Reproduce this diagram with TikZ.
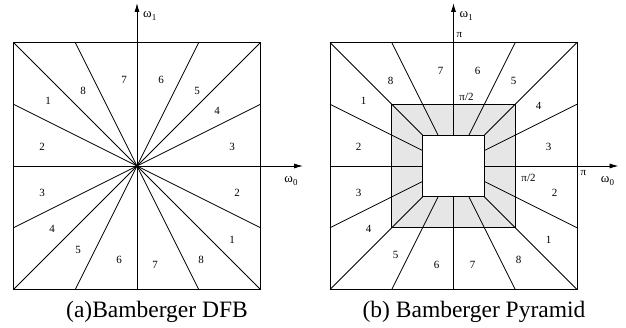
\documentclass[tikz,border=0pt]{standalone}
\usepackage{fontspec}
\setmainfont{Liberation Serif}
\usetikzlibrary{arrows.meta}
\definecolor{shade}{HTML}{E6E6E6}
\tikzset{
  ln/.style={line width=0.8pt, black},
  axis/.style={line width=0.8pt, black, -{Latex[length=9pt,width=5pt]}},
  num/.style={font=\fontsize{11}{12}\selectfont, inner sep=0pt},
  wlab/.style={font=\fontsize{13}{14}\selectfont, inner sep=0pt},
  plab/.style={font=\fontsize{11}{12}\selectfont, inner sep=0pt},
  captxt/.style={font=\fontsize{23.5}{26}\selectfont, inner sep=0pt},
}
\newcommand{\wsub}[1]{ω\raisebox{-0.35ex}{\fontsize{9}{10}\selectfont #1}}
\begin{document}
\begin{tikzpicture}[x=1pt,y=-1pt]
\useasboundingbox (0,0) rectangle (626,328);
\def\h{123.5}
% ---------------- Panel (a) ----------------
\begin{scope}[shift={(137,166)}]
  \coordinate (A) at (0,0);
  \draw[ln] (-\h,-\h) rectangle (\h,\h);
  \foreach \dx/\dy in {1/1,1/-1,-1/1,-1/-1,0.5/1,0.5/-1,-0.5/1,-0.5/-1,1/0.5,1/-0.5,-1/0.5,-1/-0.5}
    \draw[ln] (A) -- (\dx*\h,\dy*\h);
  \coordinate (ax0) at (-\h,0);
  \coordinate (ax1) at (166,0);
  \coordinate (ay0) at (0,\h);
  \coordinate (ay1) at (0,-163);
  \draw[axis] (ax0) -- (ax1);
  \draw[axis] (ay0) -- (ay1);
  \node[wlab, anchor=west] (aw1) at (6,-150) {\wsub{1}};
  \node[wlab] (aw0) at (154,15) {\wsub{0}};
  % labels
  \node[num] (a7t) at (-13,-86) {7};
  \node[num] (a6t) at (24,-86) {6};
  \node[num] (a8t) at (-54,-75) {8};
  \node[num] (a5t) at (60,-75) {5};
  \node[num] (a1t) at (-89,-65) {1};
  \node[num] (a4t) at (80,-55) {4};
  \node[num] (a2t) at (-95,-19) {2};
  \node[num] (a3t) at (95,-19) {3};
  \node[num] (a3b) at (-95,27) {3};
  \node[num] (a2b) at (100,27) {2};
  \node[num] (a4b) at (-85,63) {4};
  \node[num] (a1b) at (95,74) {1};
  \node[num] (a5b) at (-59,84) {5};
  \node[num] (a8b) at (64,94) {8};
  \node[num] (a6b) at (-18,94) {6};
  \node[num] (a7b) at (18,99) {7};
  \node[captxt] (capa) at (20,146) {(a)Bamberger DFB};
\end{scope}
% ---------------- Panel (b) ----------------
\begin{scope}[shift={(453.5,166)}]
  \coordinate (B) at (0,0);
  \draw[ln] (-\h,-\h) rectangle (\h,\h);
  \draw[ln, fill=shade] (-\h/2,-\h/2) rectangle (\h/2,\h/2);
  \foreach \dx/\dy in {1/1,1/-1,-1/1,-1/-1,0.5/1,0.5/-1,-0.5/1,-0.5/-1,1/0.5,1/-0.5,-1/0.5,-1/-0.5}
    \draw[ln] (\dx*\h/4,\dy*\h/4) -- (\dx*\h,\dy*\h);
  \coordinate (bx0) at (-\h,0);
  \coordinate (bx1) at (165,0);
  \coordinate (by0) at (0,\h);
  \coordinate (by1) at (0,-163);
  \draw[axis] (bx0) -- (bx1);
  \draw[axis] (by0) -- (by1);
  \draw[ln, fill=white] (-\h/4,-\h/4) rectangle (\h/4,\h/4);
  \node[wlab, anchor=west] (bw1) at (6,-150) {\wsub{1}};
  \node[wlab] (bw0) at (154,15) {\wsub{0}};
  \node[plab] (bpi1) at (6,-131) {π};
  \node[plab] (bpih1) at (13,-69) {π/2};
  \node[plab] (bpih0) at (75,12) {π/2};
  \node[plab] (bpi0) at (130,7) {π};
  % labels
  \node[num] (b7t) at (-13,-95) {7};
  \node[num] (b6t) at (24,-95) {6};
  \node[num] (b8t) at (-63,-85) {8};
  \node[num] (b5t) at (60,-85) {5};
  \node[num] (b1t) at (-90,-65) {1};
  \node[num] (b4t) at (85,-60) {4};
  \node[num] (b2t) at (-95,-19) {2};
  \node[num] (b3t) at (95,-19) {3};
  \node[num] (b3b) at (-95,27) {3};
  \node[num] (b2b) at (101,27) {2};
  \node[num] (b4b) at (-85,63) {4};
  \node[num] (b1b) at (95,74) {1};
  \node[num] (b5b) at (-58,89) {5};
  \node[num] (b8b) at (65,94) {8};
  \node[num] (b6b) at (-17,99) {6};
  \node[num] (b7b) at (19,99) {7};
  \node[captxt] (capb) at (20.5,146) {(b) Bamberger Pyramid};
\end{scope}
\end{tikzpicture}
\end{document}
